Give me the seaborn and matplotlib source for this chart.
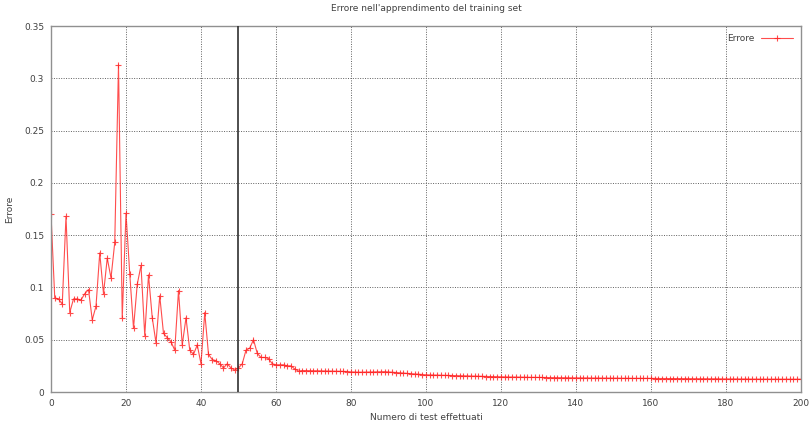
import numpy as np
import pandas as pd
import matplotlib
matplotlib.use('Agg')
import matplotlib.pyplot as plt
import seaborn as sns

# Errore per ogni test (un punto per test 0..200)
errore_inizio = [
    0.170, 0.090, 0.089, 0.084, 0.168, 0.076, 0.089, 0.089, 0.088, 0.094,
    0.098, 0.069, 0.082, 0.133, 0.094, 0.128, 0.109, 0.143, 0.313, 0.071,
    0.171, 0.113, 0.061, 0.103, 0.121, 0.054, 0.112, 0.071, 0.047, 0.092,
    0.056, 0.052, 0.048, 0.040, 0.097, 0.045, 0.071, 0.040, 0.036, 0.045,
    0.027, 0.076, 0.036, 0.031, 0.030, 0.027, 0.023, 0.027, 0.023, 0.021,
    0.023, 0.027, 0.040, 0.042, 0.050, 0.037, 0.033, 0.033, 0.032, 0.027,
    0.026, 0.026, 0.026, 0.025, 0.025, 0.022, 0.020,
]
errore_coda = [
    0.0205, 0.0204, 0.0204, 0.0203, 0.0203, 0.0202, 0.0201, 0.0200, 0.0200, 0.0199,
    0.0198, 0.0197, 0.0196, 0.0192, 0.0190, 0.0189, 0.0189, 0.0190, 0.0191, 0.0193,
    0.0194, 0.0195, 0.0194, 0.0192, 0.0189, 0.0186, 0.0183, 0.0180, 0.0177, 0.0175,
    0.0173, 0.0170, 0.0167, 0.0164, 0.0163, 0.0162, 0.0161, 0.0160, 0.0159, 0.0158,
    0.0157, 0.0156, 0.0155, 0.0154, 0.0153, 0.0152, 0.0151, 0.0150, 0.0149, 0.0148,
    0.0147, 0.0146, 0.0145, 0.0144, 0.0144, 0.0143, 0.0143, 0.0142, 0.0142, 0.0141,
    0.0141, 0.0140, 0.0140, 0.0139, 0.0139, 0.0138, 0.0138, 0.0137, 0.0137, 0.0136,
    0.0136, 0.0135, 0.0135, 0.0135, 0.0134, 0.0134, 0.0134, 0.0133, 0.0133, 0.0133,
    0.0133, 0.0132, 0.0132, 0.0132, 0.0132, 0.0131, 0.0131, 0.0131, 0.0131, 0.0130,
    0.0130, 0.0130, 0.0130, 0.0130, 0.0129, 0.0129, 0.0129, 0.0129, 0.0128, 0.0128,
    0.0128, 0.0128, 0.0127, 0.0127, 0.0127, 0.0127, 0.0126, 0.0126, 0.0126, 0.0126,
    0.0126, 0.0125, 0.0125, 0.0125, 0.0125, 0.0124, 0.0124, 0.0124, 0.0124, 0.0123,
    0.0123, 0.0123, 0.0123, 0.0123, 0.0122, 0.0122, 0.0122, 0.0122, 0.0122, 0.0122,
    0.0122, 0.0122, 0.0122, 0.0122,
]
errore = errore_inizio + errore_coda
test = list(range(len(errore)))

x_ticks = [0, 20, 40, 60, 80, 100, 120, 140, 160, 180, 200]
y_ticks = [0, 0.05, 0.1, 0.15, 0.2, 0.25, 0.3, 0.35]
y_labels = ['0', '0.05', '0.1', '0.15', '0.2', '0.25', '0.3', '0.35']
linea_verticale = 50

df = pd.DataFrame({'test': test, 'errore': errore})

sns.set_style('white')
plt.rcParams['font.family'] = ['DejaVu Sans']

fig = plt.figure(figsize=(8.12, 4.25), dpi=100)
ax = fig.add_axes([51 / 812, 33 / 425, 750 / 812, 366 / 425])

sns.lineplot(data=df, x='test', y='errore', ax=ax, color='#ff2020',
             linewidth=0.8, marker='+', markersize=5, markeredgewidth=0.8,
             markeredgecolor='#ff2020', alpha=0.8, label='Errore')

ax.axvline(linea_verticale, color='#303030', linewidth=1.2, zorder=3)

ax.set_xlim(0, 200)
ax.set_ylim(0, 0.35)
ax.set_xticks(x_ticks)
ax.set_yticks(y_ticks)
ax.set_yticklabels(y_labels)
ax.tick_params(labelsize=6.5, colors='#404040', length=0, pad=5)
ax.grid(True, linestyle=(0, (1, 1.5)), color='#606060', linewidth=0.7)
for s in ax.spines.values():
    s.set_color('#909090')
    s.set_linewidth(1.0)

ax.set_title("Errore nell'apprendimento del training set", fontsize=6.5,
             color='#404040', pad=11)
ax.set_xlabel('Numero di test effettuati', fontsize=6.5, color='#404040', labelpad=4)
ax.set_ylabel('Errore', fontsize=6.5, color='#404040', labelpad=7)

leg = ax.legend(loc='upper right', frameon=False, fontsize=6.5,
                handlelength=3.5, borderaxespad=0.5, markerfirst=False)
for t in leg.get_texts():
    t.set_color('#404040')

fig.savefig('out.png', dpi=100, facecolor='white')
